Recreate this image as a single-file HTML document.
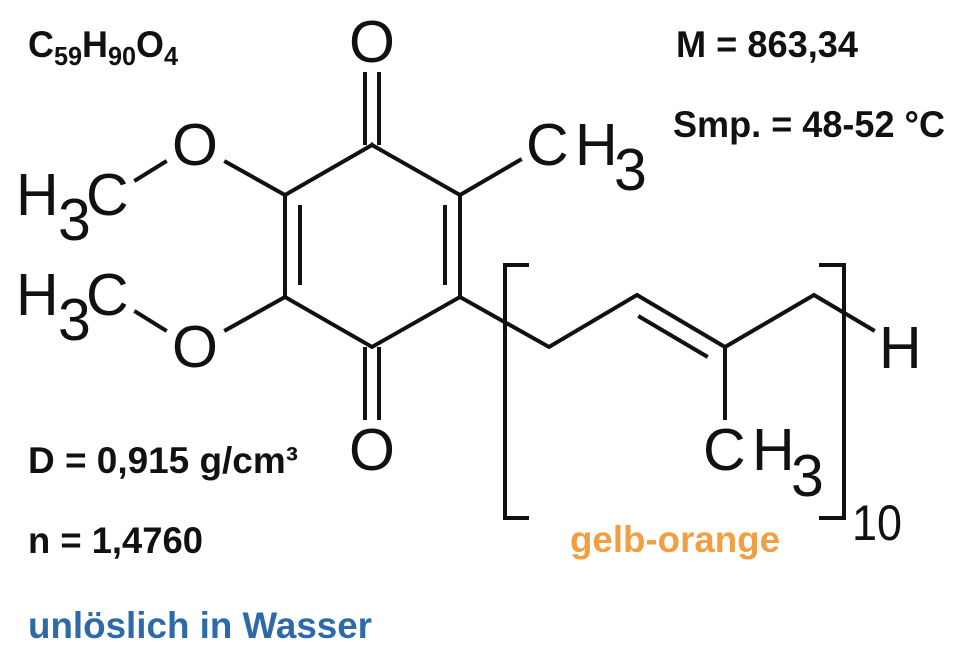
<!DOCTYPE html>
<html><head><meta charset="utf-8"><style>
html,body{margin:0;padding:0;background:#fff;}
svg{display:block;}
</style></head><body>
<svg width="960" height="648" viewBox="0 0 960 648" xmlns="http://www.w3.org/2000/svg">
<g stroke="#111" stroke-width="4" fill="none" stroke-linecap="square">
<polyline points="372,145 460,195 460,297 372,347 285,297 285,195 372,145"/>
<line x1="300" y1="207" x2="300" y2="283"/>
<line x1="445" y1="207" x2="445" y2="283"/>
<line x1="365" y1="74" x2="365" y2="143"/>
<line x1="379" y1="74" x2="379" y2="143"/>
<line x1="365" y1="349" x2="365" y2="418"/>
<line x1="379" y1="349" x2="379" y2="418"/>
<line x1="226" y1="162" x2="285" y2="195"/>
<line x1="136" y1="180" x2="165" y2="162"/>
<line x1="226" y1="330" x2="285" y2="297"/>
<line x1="136" y1="312" x2="165" y2="330"/>
<line x1="460" y1="195" x2="520" y2="160"/>
<polyline points="460,297 549,347 637,295 725,347 814,295 873,330"/>
<line x1="640" y1="317" x2="706" y2="356"/>
<line x1="725" y1="347" x2="725" y2="418"/>
<polyline points="529,265 505,265 505,518 529,518" stroke-linecap="butt"/>
<polyline points="819,265 844,265 844,518 819,518" stroke-linecap="butt"/>
</g>
<g font-family="Liberation Sans, sans-serif" fill="#111" font-size="59">
<text x="372" y="62" text-anchor="middle">O</text>
<text x="195" y="165" text-anchor="middle">O</text>
<text x="195" y="367" text-anchor="middle">O</text>
<text x="372" y="470" text-anchor="middle">O</text>
<text x="16" y="215">H</text><text x="58" y="240">3</text><text x="86" y="215">C</text>
<text x="16" y="315">H</text><text x="58" y="340">3</text><text x="86" y="315">C</text>
<text x="526" y="165">C</text><text x="575" y="165">H</text><text x="614" y="190">3</text>
<text x="703" y="470">C</text><text x="752" y="470">H</text><text x="791" y="496">3</text>
<text x="879" y="368">H</text>
<text x="852" y="540" font-size="50" textLength="50" lengthAdjust="spacingAndGlyphs">10</text>
</g>
<g font-family="Liberation Sans, sans-serif" font-weight="bold" font-size="37">
<text x="28" y="57" fill="#111" textLength="150" lengthAdjust="spacingAndGlyphs">C<tspan font-size="26" dy="8">59</tspan><tspan dy="-8">H</tspan><tspan font-size="26" dy="8">90</tspan><tspan dy="-8">O</tspan><tspan font-size="26" dy="8">4</tspan></text>
<text x="676" y="57" fill="#111" textLength="182" lengthAdjust="spacingAndGlyphs">M = 863,34</text>
<text x="673" y="137" fill="#111" textLength="272" lengthAdjust="spacingAndGlyphs">Smp. = 48-52 °C</text>
<text x="28" y="473" fill="#111" textLength="270" lengthAdjust="spacingAndGlyphs">D = 0,915 g/cm³</text>
<text x="28" y="553" fill="#111" textLength="175" lengthAdjust="spacingAndGlyphs">n = 1,4760</text>
<text x="570" y="552" fill="#f0a043" textLength="210" lengthAdjust="spacingAndGlyphs">gelb-orange</text>
<text x="28" y="638" fill="#2f6aa8" textLength="344" lengthAdjust="spacingAndGlyphs">unlöslich in Wasser</text>
</g>
</svg>
</body></html>
